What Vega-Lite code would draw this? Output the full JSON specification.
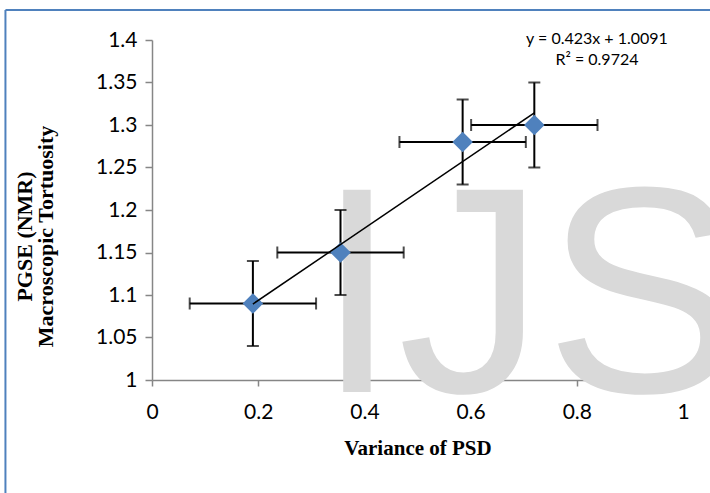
{
  "$schema": "https://vega.github.io/schema/vega-lite/v6.json",
  "width": 531,
  "height": 340,
  "autosize": "none",
  "padding": {"left": 152, "top": 40, "right": 27, "bottom": 113},
  "background": "white",
  "config": {
    "view": {"stroke": null},
    "axis": {"grid": false, "labelFlush": false, "domainColor": "#868686", "tickColor": "#868686", "domainWidth": 1.5, "tickWidth": 1.5, "labelColor": "#000000", "titleColor": "#000000", "zindex": 1}
  },
  "data": {"values": [
    {"x": 0.19, "y": 1.09, "xlo": 0.071, "xhi": 0.309, "ylo": 1.04, "yhi": 1.14},
    {"x": 0.355, "y": 1.15, "xlo": 0.236, "xhi": 0.474, "ylo": 1.10, "yhi": 1.20},
    {"x": 0.585, "y": 1.28, "xlo": 0.466, "xhi": 0.704, "ylo": 1.23, "yhi": 1.33},
    {"x": 0.72, "y": 1.30, "xlo": 0.601, "xhi": 0.839, "ylo": 1.25, "yhi": 1.35}
  ]},
  "layer": [
    {
      "data": {"values": [{"label": "IJS"}]},
      "mark": {"type": "text", "font": "Liberation Sans", "fontSize": 294, "color": "#d9d9d9", "align": "left", "baseline": "alphabetic"},
      "encoding": {
        "text": {"field": "label"},
        "x": {"datum": 0.309, "type": "quantitative", "scale": {"domain": [0, 1], "nice": false, "zero": false},
          "title": "Variance of PSD",
          "axis": {"values": [0, 0.2, 0.4, 0.6, 0.8, 1], "format": "~g", "labelFont": "Lato", "labelFontSize": 21, "tickSize": 6, "labelPadding": 15,
            "titleFont": "Liberation Serif", "titleFontSize": 21, "titleFontWeight": "bold", "titlePadding": 15}},
        "y": {"datum": 0.986, "type": "quantitative", "scale": {"domain": [1, 1.4], "nice": false, "zero": false},
          "title": ["PGSE (NMR)", "Macroscopic Tortuosity"],
          "axis": {"values": [1, 1.05, 1.1, 1.15, 1.2, 1.25, 1.3, 1.35, 1.4], "format": "~g", "labelFont": "Lato", "labelFontSize": 21, "tickSize": 7, "labelPadding": 8,
            "titleFont": "Liberation Serif", "titleFontSize": 22, "titleFontWeight": "bold", "titleLineHeight": 21,
            "titleX": -121, "titleY": 196, "titleBaseline": "alphabetic", "titleAlign": "center"}}
      }
    },
    {
      "data": {"values": [{}]},
      "mark": {"type": "rule", "color": "#4f81bd", "strokeWidth": 2},
      "encoding": {
        "x": {"datum": -0.276, "type": "quantitative", "scale": {"domain": [0, 1], "nice": false, "zero": false}},
        "y": {"datum": 0.86, "type": "quantitative", "scale": {"domain": [1, 1.4], "nice": false, "zero": false}},
        "y2": {"datum": 1.4353}
      }
    },
    {
      "data": {"values": [{}]},
      "mark": {"type": "rule", "color": "#4f81bd", "strokeWidth": 2},
      "encoding": {
        "x": {"datum": -0.276, "type": "quantitative", "scale": {"domain": [0, 1], "nice": false, "zero": false}},
        "x2": {"datum": 1.06},
        "y": {"datum": 1.4353, "type": "quantitative", "scale": {"domain": [1, 1.4], "nice": false, "zero": false}}
      }
    },
    {
      "mark": {"type": "errorbar", "ticks": true, "size": 12, "thickness": 2, "color": "black"},
      "encoding": {
        "x": {"field": "xlo", "type": "quantitative", "scale": {"domain": [0, 1], "nice": false, "zero": false}, "title": "Variance of PSD"},
        "x2": {"field": "xhi"},
        "y": {"field": "y", "type": "quantitative", "scale": {"domain": [1, 1.4], "nice": false, "zero": false}, "title": ["PGSE (NMR)", "Macroscopic Tortuosity"]}
      }
    },
    {
      "mark": {"type": "errorbar", "ticks": true, "size": 12, "thickness": 2, "color": "black"},
      "encoding": {
        "y": {"field": "ylo", "type": "quantitative", "scale": {"domain": [1, 1.4], "nice": false, "zero": false}, "title": ["PGSE (NMR)", "Macroscopic Tortuosity"]},
        "y2": {"field": "yhi"},
        "x": {"field": "x", "type": "quantitative", "scale": {"domain": [0, 1], "nice": false, "zero": false}, "title": "Variance of PSD"}
      }
    },
    {
      "mark": {"type": "point", "shape": "diamond", "filled": true, "size": 420, "color": "#4f81bd", "opacity": 1},
      "encoding": {
        "x": {"field": "x", "type": "quantitative", "scale": {"domain": [0, 1], "nice": false, "zero": false}, "title": "Variance of PSD"},
        "y": {"field": "y", "type": "quantitative", "scale": {"domain": [1, 1.4], "nice": false, "zero": false}, "title": ["PGSE (NMR)", "Macroscopic Tortuosity"]}
      }
    },
    {
      "transform": [{"regression": "y", "on": "x"}],
      "mark": {"type": "line", "color": "black", "strokeWidth": 1.5},
      "encoding": {
        "x": {"field": "x", "type": "quantitative", "scale": {"domain": [0, 1], "nice": false, "zero": false}, "title": "Variance of PSD"},
        "y": {"field": "y", "type": "quantitative", "scale": {"domain": [1, 1.4], "nice": false, "zero": false}, "title": ["PGSE (NMR)", "Macroscopic Tortuosity"]}
      }
    },
    {
      "data": {"values": [{}]},
      "mark": {"type": "text", "text": ["y = 0.423x + 1.0091", "R² = 0.9724"], "font": "Lato", "fontSize": 16, "lineHeight": 21, "align": "center", "baseline": "middle", "color": "black"},
      "encoding": {
        "x": {"datum": 0.838, "type": "quantitative", "scale": {"domain": [0, 1], "nice": false, "zero": false}},
        "y": {"datum": 1.4012, "type": "quantitative", "scale": {"domain": [1, 1.4], "nice": false, "zero": false}}
      }
    }
  ]
}
